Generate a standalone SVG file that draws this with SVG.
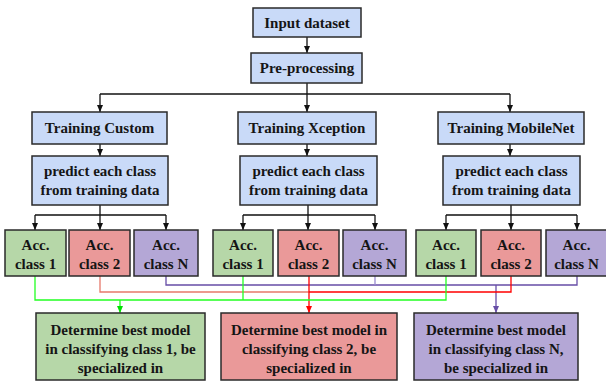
<svg xmlns="http://www.w3.org/2000/svg" width="606" height="382" viewBox="0 0 606 382">
<defs>
<marker id="ab" markerUnits="userSpaceOnUse" markerWidth="8" markerHeight="8" refX="7" refY="3" orient="auto"><path d="M0,0 L7,3 L0,6 z" fill="#111"/></marker>
<marker id="ag" markerUnits="userSpaceOnUse" markerWidth="8" markerHeight="8" refX="7" refY="3" orient="auto"><path d="M0,0 L7,3 L0,6 z" fill="#00e000"/></marker>
<marker id="ar" markerUnits="userSpaceOnUse" markerWidth="8" markerHeight="8" refX="7" refY="3" orient="auto"><path d="M0,0 L7,3 L0,6 z" fill="#ff0000"/></marker>
<marker id="ap" markerUnits="userSpaceOnUse" markerWidth="8" markerHeight="8" refX="7" refY="3" orient="auto"><path d="M0,0 L7,3 L0,6 z" fill="#674ea7"/></marker>
</defs>
<style>
rect{stroke:#2a2a2a;stroke-width:1.5}
.b{fill:#c9daf8}
.g{fill:#b6d7a8}
.r{fill:#ea9999}
.p{fill:#b4a7d6}
text{font-family:"Liberation Serif","Times New Roman",serif;font-weight:bold;font-size:15px;fill:#151515;text-anchor:middle}
.k{fill:none;stroke:#111;stroke-width:1.3}
.lg{fill:none;stroke:#22ff22;stroke-width:1.3}
.lr{fill:none;stroke:#ff0000;stroke-width:1.3}
.ls{fill:none;stroke:#e6796b;stroke-width:1.3}
.lp{fill:none;stroke:#674ea7;stroke-width:1.3}
.lq{fill:none;stroke:#9a8bd0;stroke-width:1.3}
</style>

<g id="connectors">
<path class="k" d="M307,37 V53" marker-end="url(#ab)"/>
<path class="k" d="M307,83 V94"/>
<path class="k" d="M100,94 H510"/>
<path class="k" d="M100,94 V112" marker-end="url(#ab)"/>
<path class="k" d="M307,94 V112" marker-end="url(#ab)"/>
<path class="k" d="M510,94 V112" marker-end="url(#ab)"/>
<path class="k" d="M100,144 V156" marker-end="url(#ab)"/>
<path class="k" d="M307,144 V156" marker-end="url(#ab)"/>
<path class="k" d="M510,144 V156" marker-end="url(#ab)"/>
<path class="k" d="M100,205 V215 M35,215 H166 M243,215 H375 M446,215 H577 M308,205 V215 M511,205 V215"/>
<path class="k" d="M35,215 V230" marker-end="url(#ab)"/>
<path class="k" d="M100,215 V230" marker-end="url(#ab)"/>
<path class="k" d="M166,215 V230" marker-end="url(#ab)"/>
<path class="k" d="M243,215 V230" marker-end="url(#ab)"/>
<path class="k" d="M308,215 V230" marker-end="url(#ab)"/>
<path class="k" d="M375,215 V230" marker-end="url(#ab)"/>
<path class="k" d="M446,215 V230" marker-end="url(#ab)"/>
<path class="k" d="M511,215 V230" marker-end="url(#ab)"/>
<path class="k" d="M577,215 V230" marker-end="url(#ab)"/>
<path class="lp" d="M166,276 V285 H577 V276"/>
<path class="lq" d="M375,276 V285"/>
<path class="lp" d="M496,285 V313" marker-end="url(#ap)"/>
<path class="ls" d="M100,276 V292 H309"/>
<path class="lr" d="M511,276 V292 H309"/>
<path class="lr" d="M309,276 V313" marker-end="url(#ar)"/>
<path class="lg" d="M35,276 V300 H446 V276 M243,276 V300"/>
<path class="lg" d="M120,300 V313" marker-end="url(#ag)"/>
</g>

<g id="input"><rect class="b" x="253" y="8" width="108" height="29"/><text x="307" y="28">Input dataset</text></g>
<g id="preprocessing"><rect class="b" x="251" y="53" width="111" height="30"/><text x="307" y="73">Pre-processing</text></g>

<g id="train-custom"><rect class="b" x="32" y="112" width="135" height="32"/><text x="99.5" y="133">Training Custom</text></g>
<g id="train-xception"><rect class="b" x="238" y="112" width="138" height="32"/><text x="307" y="133">Training Xception</text></g>
<g id="train-mobilenet"><rect class="b" x="438" y="112" width="146" height="32"/><text x="511" y="133">Training MobileNet</text></g>

<g id="predict-custom"><rect class="b" x="32" y="156" width="136" height="49"/><text x="100" y="176">predict each class</text><text x="100" y="195">from training data</text></g>
<g id="predict-xception"><rect class="b" x="240" y="156" width="137" height="49"/><text x="308.5" y="176">predict each class</text><text x="308.5" y="195">from training data</text></g>
<g id="predict-mobilenet"><rect class="b" x="443" y="156" width="137" height="49"/><text x="511.5" y="176">predict each class</text><text x="511.5" y="195">from training data</text></g>

<g id="c-acc1"><rect class="g" x="5" y="230" width="61" height="46"/><text x="35.5" y="250">Acc.</text><text x="35.5" y="269">class 1</text></g>
<g id="c-acc2"><rect class="r" x="69" y="230" width="61" height="46"/><text x="99.5" y="250">Acc.</text><text x="99.5" y="269">class 2</text></g>
<g id="c-accN"><rect class="p" x="134" y="230" width="64" height="46"/><text x="166" y="250">Acc.</text><text x="166" y="269">class N</text></g>

<g id="x-acc1"><rect class="g" x="213" y="230" width="60" height="46"/><text x="243" y="250">Acc.</text><text x="243" y="269">class 1</text></g>
<g id="x-acc2"><rect class="r" x="278" y="230" width="61" height="46"/><text x="308.5" y="250">Acc.</text><text x="308.5" y="269">class 2</text></g>
<g id="x-accN"><rect class="p" x="343" y="230" width="63" height="46"/><text x="374.5" y="250">Acc.</text><text x="374.5" y="269">class N</text></g>

<g id="m-acc1"><rect class="g" x="416" y="230" width="60" height="46"/><text x="446" y="250">Acc.</text><text x="446" y="269">class 1</text></g>
<g id="m-acc2"><rect class="r" x="481" y="230" width="60" height="46"/><text x="511" y="250">Acc.</text><text x="511" y="269">class 2</text></g>
<g id="m-accN"><rect class="p" x="546" y="230" width="61" height="46"/><text x="576.5" y="250">Acc.</text><text x="576.5" y="269">class N</text></g>

<g id="best-1"><rect class="g" x="36" y="313" width="169" height="67"/><text x="120.5" y="335">Determine best model</text><text x="120.5" y="354">in classifying class 1, be</text><text x="120.5" y="373">specialized in</text></g>
<g id="best-2"><rect class="r" x="221" y="313" width="176" height="67"/><text x="309" y="335">Determine best model in</text><text x="309" y="354">classifying class 2, be</text><text x="309" y="373">specialized in</text></g>
<g id="best-N"><rect class="p" x="414" y="313" width="164" height="67"/><text x="496" y="335">Determine best model</text><text x="496" y="354">in classifying class N,</text><text x="496" y="373">be specialized in</text></g>
</svg>
